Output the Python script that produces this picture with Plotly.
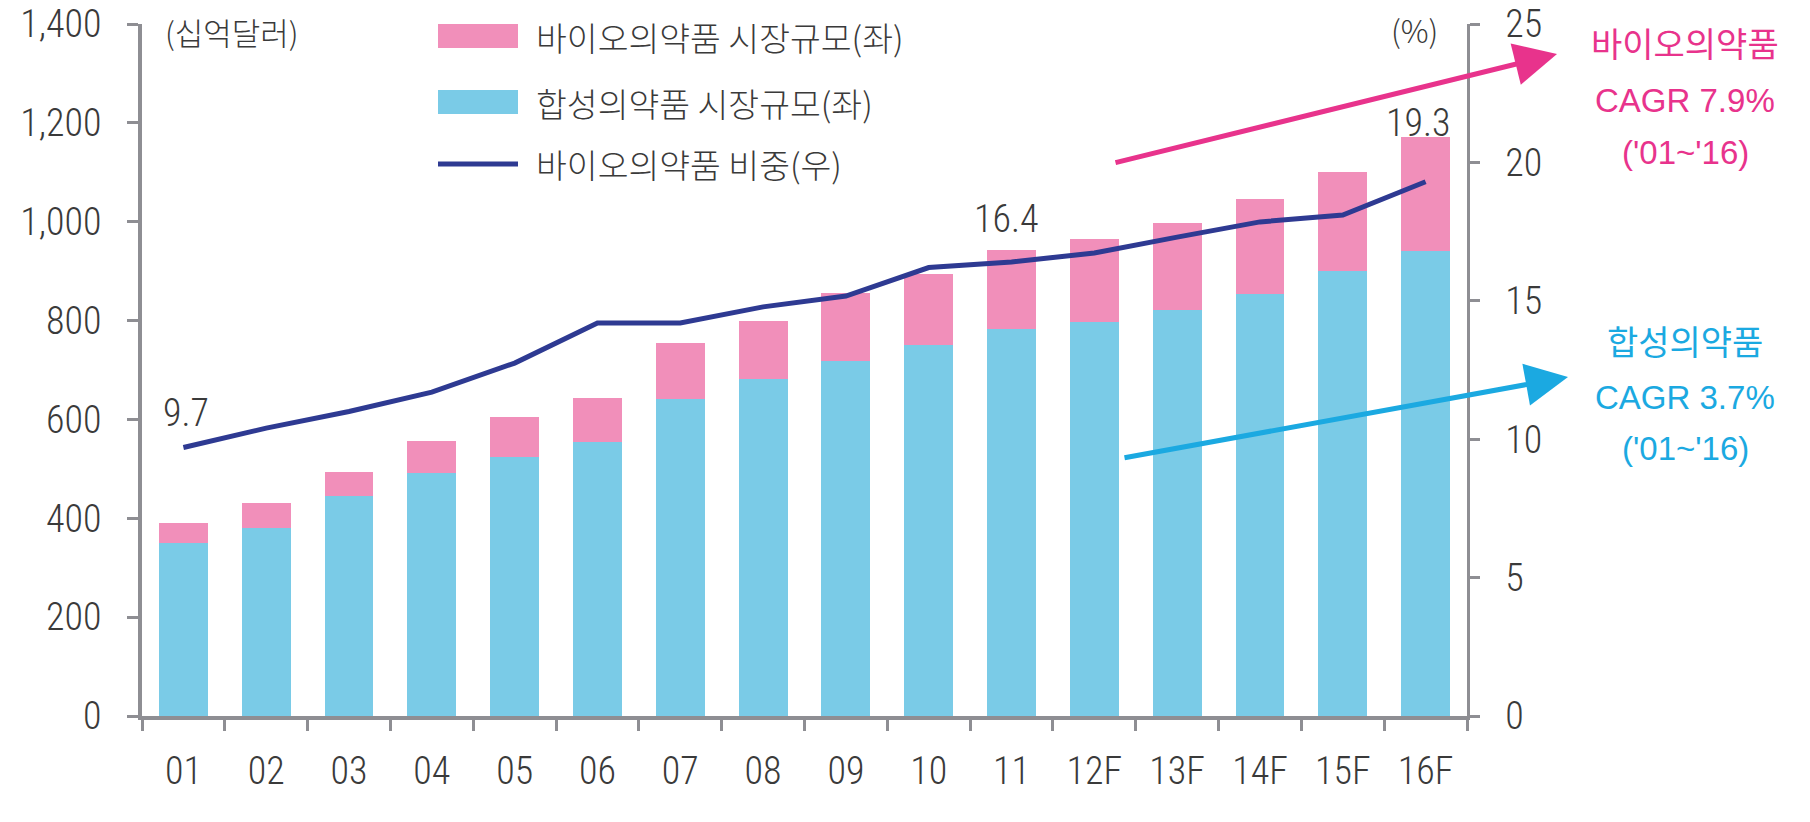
import plotly.graph_objects as go

# ---------------- data ----------------
years = ["01", "02", "03", "04", "05", "06", "07", "08", "09", "10",
         "11", "12F", "13F", "14F", "15F", "16F"]
synth_market = [350, 381, 446, 492, 523, 555, 642, 681, 719, 750,
                782, 798, 822, 853, 901, 940]          # 합성의약품 (십억달러)
bio_market = [41, 50, 48, 65, 81, 89, 112, 119, 136, 145,
              160, 168, 175, 192, 199, 231]            # 바이오의약품 (십억달러)
bio_share = [9.7, 10.4, 11.0, 11.7, 12.75, 14.2, 14.2, 14.78, 15.17, 16.2,
             16.4, 16.73, 17.3, 17.85, 18.1, 19.3]     # 바이오의약품 비중 (%)

label_idx = [0, 10, 15]
label_txt = ["9.7", "16.4", "19.3"]
label_dx = [3, -5, -7]
label_dy = [35, 43, 59]

left_ticks = [0, 200, 400, 600, 800, 1000, 1200, 1400]
right_ticks = [0, 5, 10, 15, 20, 25]

legend_names = ["바이오의약품 시장규모(좌)", "합성의약품 시장규모(좌)", "바이오의약품 비중(우)"]

# ---------------- style ----------------
W, H = 1810, 822
ML, MR, MT, MB = 142, 343, 24, 106
PW, PH = W - ML - MR, H - MT - MB
PINK = "#F18FBA"
CYAN = "#7ACBE7"
NAVY = "#2E3A92"
AXIS = "#8E8E93"
TXT = "#3A3A3A"
MAG = "#E8338C"
BLUE = "#1BA9E1"
NUMFONT = "Roboto Condensed, Liberation Sans Narrow, sans-serif"
SANS = "Liberation Sans, Arial, sans-serif"
KOR = "Noto Sans CJK KR, Noto Sans, sans-serif"


def px(x):
    return (x - ML) / PW


def py(y):
    return (H - MB - y) / PH


fig = go.Figure()
fig.add_trace(go.Bar(x=years, y=synth_market, name=legend_names[1],
                     marker=dict(color=CYAN, line=dict(width=0)), showlegend=False))
fig.add_trace(go.Bar(x=years, y=bio_market, name=legend_names[0],
                     marker=dict(color=PINK, line=dict(width=0)), showlegend=False))
fig.add_trace(go.Scatter(x=years, y=bio_share, name=legend_names[2], yaxis="y2",
                         mode="lines", line=dict(color=NAVY, width=5),
                         showlegend=False))

annotations = []
for i, t, dx, dy in zip(label_idx, label_txt, label_dx, label_dy):
    annotations.append(dict(x=i, y=bio_share[i], xref="x", yref="y2",
                            text=t, showarrow=False, xshift=dx, yshift=dy,
                            font=dict(family=NUMFONT, size=38, weight=300, color=TXT)))

# unit labels
annotations.append(dict(x=px(163), y=py(32), xref="paper", yref="paper",
                        text="(십억달러)", showarrow=False, xanchor="left",
                        yanchor="middle", font=dict(family=KOR, size=31, weight=300, color=TXT)))
annotations.append(dict(x=px(1440), y=py(30), xref="paper", yref="paper",
                        text="(%)", showarrow=False, xanchor="right",
                        yanchor="middle", font=dict(family=KOR, size=31, weight=300, color=TXT)))

# custom legend
shapes = []
leg_rows = [36, 102, 164]
leg_colors = [PINK, CYAN, NAVY]
for k, (yy, c, nm) in enumerate(zip(leg_rows, leg_colors, legend_names)):
    if k < 2:
        shapes.append(dict(type="rect", xref="paper", yref="paper",
                           x0=px(438), x1=px(518), y0=py(yy - 12), y1=py(yy + 12),
                           fillcolor=c, line=dict(width=0), layer="above"))
    else:
        shapes.append(dict(type="line", xref="paper", yref="paper",
                           x0=px(438), x1=px(518), y0=py(yy), y1=py(yy),
                           line=dict(color=c, width=5), layer="above"))
    annotations.append(dict(x=px(534), y=py(yy), xref="paper", yref="paper",
                            text=nm, showarrow=False, xanchor="left", yanchor="middle",
                            font=dict(family=KOR, size=33.5, weight=300, color=TXT)))

# CAGR arrows
annotations.append(dict(x=px(1557), y=py(54), xref="paper", yref="paper",
                        ax=1114 - 1557, ay=163 - 54, axref="pixel", ayref="pixel",
                        text="", showarrow=True, arrowhead=2, arrowsize=1.7,
                        arrowwidth=5, arrowcolor=MAG))
annotations.append(dict(x=px(1568), y=py(377), xref="paper", yref="paper",
                        ax=1123 - 1568, ay=458 - 377, axref="pixel", ayref="pixel",
                        text="", showarrow=True, arrowhead=2, arrowsize=1.7,
                        arrowwidth=5, arrowcolor=BLUE))

for txt, yy, c in [("바이오의약품", 43, MAG), ("CAGR 7.9%", 100, MAG), ("('01~'16)", 152, MAG),
                   ("합성의약품", 340, BLUE), ("CAGR 3.7%", 397, BLUE), ("('01~'16)", 448, BLUE)]:
    kor = "의" in txt
    annotations.append(dict(x=px(1685), y=py(yy), xref="paper", yref="paper",
                            text=txt, showarrow=False, xanchor="center", yanchor="middle",
                            font=dict(family=KOR if kor else SANS,
                                      size=34 if kor else 33,
                                      weight=400, color=c)))

tickfont = dict(family=NUMFONT, size=38, weight=300, color=TXT)
fig.update_layout(
    width=W, height=H,
    margin=dict(l=ML, r=MR, t=MT, b=MB, pad=0, autoexpand=False),
    paper_bgcolor="white", plot_bgcolor="white",
    barmode="stack", bargap=0.41,
    showlegend=False,
    annotations=annotations, shapes=shapes,
    xaxis=dict(type="category", showline=True, linecolor=AXIS, linewidth=4,
               ticks="outside", tickson="boundaries", ticklen=11, tickwidth=3,
               tickcolor=AXIS, showgrid=False, zeroline=False, automargin=False,
               tickfont=tickfont, ticklabelstandoff=18),
    yaxis=dict(range=[0, 1400], tickvals=left_ticks, tickformat=",",
               showline=True, linecolor=AXIS, linewidth=4,
               ticks="outside", ticklen=11, tickwidth=3, tickcolor=AXIS,
               showgrid=False, zeroline=False, automargin=False,
               tickfont=tickfont, ticklabelstandoff=18),
    yaxis2=dict(range=[0, 25], tickvals=right_ticks, overlaying="y", side="right",
                showline=True, linecolor=AXIS, linewidth=2.5,
                ticks="outside", ticklen=10, tickwidth=3, tickcolor=AXIS,
                showgrid=False, zeroline=False, automargin=False,
                tickfont=tickfont, ticklabelstandoff=18),
)

fig.write_html("out.html", config={"displayModeBar": False},
               post_script="document.body.style.margin='0px';")
